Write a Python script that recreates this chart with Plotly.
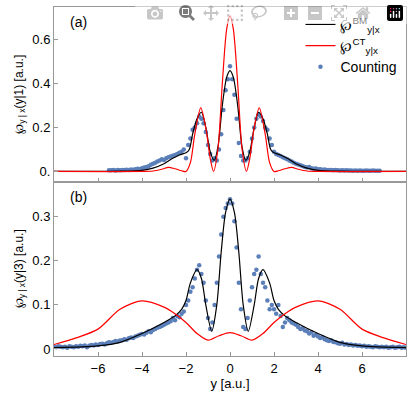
import numpy as np
import plotly.graph_objects as go
from plotly.subplots import make_subplots

# Panel (a) curves
red_a_x = [-8,-4,-3.5,-3.1,-2.8,-2.5,-2.2,-2.0,-1.8,-1.6,-1.33,-1.1,-0.9,-0.75,-0.55,-0.35,-0.15,0,
           0.15,0.35,0.55,0.75,0.9,1.1,1.33,1.6,1.8,2.0,2.2,2.5,2.8,3.1,3.5,4,8]
red_a_y = [0,0,0.002,0.01,0.018,0.012,0.003,0,0.04,0.17,0.29,0.2,0.06,0,0.1,0.4,0.65,0.71,
           0.65,0.4,0.1,0,0.06,0.2,0.29,0.17,0.04,0,0.003,0.012,0.018,0.01,0.002,0,0]
blk_a_x = [-8,-5,-4,-3.5,-3,-2.6,-2.3,-2.0,-1.85,-1.7,-1.5,-1.3,-1.1,-0.9,-0.72,-0.55,-0.35,-0.15,0,
           0.15,0.35,0.55,0.72,0.9,1.1,1.3,1.5,1.7,1.85,2.0,2.3,2.6,3,3.5,4,5,8]
blk_a_y = [0,0.001,0.005,0.015,0.035,0.06,0.075,0.085,0.1,0.17,0.24,0.27,0.2,0.09,0.05,0.11,0.3,0.43,0.46,
           0.43,0.3,0.11,0.05,0.09,0.2,0.27,0.24,0.17,0.1,0.085,0.075,0.06,0.035,0.015,0.005,0.001,0]
cnt_a_x0, cnt_a_step = -5.5, 0.1
cnt_a_y = [0.005,0.005,0.006,0.004,0.006,0.005,0.007,0.006,0.008,0.007,
           0.009,0.008,0.010,0.012,0.011,0.015,0.018,0.020,0.024,0.030,
           0.035,0.040,0.045,0.050,0.055,0.052,0.060,0.065,0.068,0.072,
           0.075,0.08,0.085,0.09,0.10,0.06,0.12,0.15,0.19,0.20,
           0.22,0.25,0.24,0.22,0.18,0.12,0.08,0.05,0.06,0.05,
           0.10,0.17,0.28,0.37,0.42,0.48,0.42,0.35,0.24,0.13,
           0.07,0.05,0.05,0.06,0.09,0.15,0.20,0.24,0.26,0.25,
           0.23,0.20,0.19,0.15,0.12,0.09,0.08,0.075,0.07,0.065,
           0.06,0.055,0.05,0.045,0.04,0.035,0.032,0.028,0.025,0.02,
           0.018,0.02,0.015,0.012,0.013,0.01,0.01,0.008,0.009,0.007,
           0.006,0.007,0.005,0.006,0.005,0.004,0.005,0.004,0.005,0.004,
           0.004,0.003,0.004,0.003,0.004,0.003,0.003,0.004,0.003,0.003,0.004,0.003,0.003,0.003]

# Panel (b) curves
red_b_x = [-8,-7,-6,-5,-4,-3,-2.5,-2,-1.5,-1,-0.5,0,0.5,1,1.5,2,2.5,3,4,5,6,7,8]
red_b_y = [0.01,0.025,0.045,0.09,0.109,0.095,0.08,0.06,0.035,0.02,0.03,0.037,
           0.03,0.02,0.035,0.06,0.08,0.095,0.109,0.09,0.045,0.025,0.01]
blk_b_x = [-8,-6,-5,-4,-3,-2.5,-2.2,-2.0,-1.8,-1.5,-1.3,-1.1,-0.83,-0.6,-0.4,-0.2,0,
           0.2,0.4,0.6,0.83,1.1,1.3,1.5,1.8,2.0,2.2,2.5,3,4,5,6,8]
blk_b_y = [0.003,0.007,0.015,0.035,0.06,0.075,0.09,0.11,0.15,0.18,0.16,0.1,0.04,0.1,0.22,0.31,0.34,
           0.31,0.22,0.1,0.04,0.1,0.16,0.18,0.15,0.11,0.09,0.075,0.06,0.035,0.015,0.007,0.003]
cnt_b_x0, cnt_b_step = -8.0, 0.1
cnt_b_y = [.005,.004,.006,.005,.004,.005,.003,.006,.005,.004,
           .006,.005,.007,.006,.008,.004,.007,.009,.008,.010,
           .009,.011,.012,.010,.013,.015,.014,.016,.018,.017,
           .019,.020,.022,.021,.024,.026,.025,.028,.030,.032,
           .034,.033,.037,.040,.038,.043,.045,.048,.050,.052,
           .055,.058,.060,.063,.070,.065,.075,.072,.08,.085,
           .10,.11,.13,.14,.16,.18,.19,.17,.15,.11,
           .07,.045,.06,.10,.15,.21,.26,.30,.32,.33,
           .34,.33,.29,.23,.15,.09,.05,.045,.07,.11,
           .14,.17,.18,.21,.17,.15,.14,.11,.09,.10,
           .09,.08,.10,.075,.05,.06,.07,.065,.06,.058,
           .055,.05,.045,.047,.042,.04,.035,.038,.03,.032,
           .028,.025,.027,.022,.02,.018,.02,.016,.015,.013,
           .012,.014,.010,.011,.009,.010,.008,.009,.007,.008,
           .006,.007,.005,.006,.005,.004,.006,.005,.004,.005,
           .004,.005,.003,.004,.005,.003,.004,.005,.003,.004,.003]

x_ticks = [-6,-4,-2,0,2,4,6]
x_text = ["−6","−4","−2","0","2","4","6"]
ya_ticks = [0,0.2,0.4,0.6]; ya_text = ["0.","0.2","0.4","0.6"]
yb_ticks = [0,0.1,0.2,0.3]; yb_text = ["0","0.1","0.2","0.3"]

cnt_a_x = [cnt_a_x0 + i*cnt_a_step for i in range(len(cnt_a_y))]
cnt_b_x = [cnt_b_x0 + i*cnt_b_step for i in range(len(cnt_b_y))]

fig = make_subplots(rows=2, cols=1, shared_xaxes=True, vertical_spacing=0)
BLUE = "#5b7fb9"
fig.add_trace(go.Scatter(x=cnt_a_x, y=cnt_a_y, mode="markers", marker=dict(color=BLUE, size=4.5),
                         name="Counting", legendrank=3), row=1, col=1)
fig.add_trace(go.Scatter(x=blk_a_x, y=blk_a_y, mode="lines", line=dict(color="black", width=1.2, shape="spline", smoothing=0.8),
                         name="℘<sup>BM</sup><sub>y|x</sub>", legendrank=1), row=1, col=1)
fig.add_trace(go.Scatter(x=red_a_x, y=red_a_y, mode="lines", line=dict(color="red", width=1.2, shape="spline", smoothing=0.8),
                         name="℘<sup>CT</sup><sub>y|x</sub>", legendrank=2), row=1, col=1)
fig.add_trace(go.Scatter(x=cnt_b_x, y=cnt_b_y, mode="markers", marker=dict(color=BLUE, size=4.5),
                         showlegend=False), row=2, col=1)
fig.add_trace(go.Scatter(x=blk_b_x, y=blk_b_y, mode="lines", line=dict(color="black", width=1.2, shape="spline", smoothing=0.8),
                         showlegend=False), row=2, col=1)
fig.add_trace(go.Scatter(x=red_b_x, y=red_b_y, mode="lines", line=dict(color="red", width=1.2, shape="spline", smoothing=0.8),
                         showlegend=False), row=2, col=1)

ax = dict(showline=True, linecolor="#999", mirror=True, ticks="inside", ticklen=4, tickcolor="#999",
          showgrid=False, zeroline=False, tickfont=dict(size=13, color="black"))
fig.update_xaxes(**ax, range=[-8, 8], tickvals=x_ticks, ticktext=x_text)
fig.update_xaxes(title_text="y [a.u.]", title_font=dict(size=13), title_standoff=4, row=2, col=1)
fig.update_yaxes(**ax)
fig.update_yaxes(range=[-0.046, 0.75], tickvals=ya_ticks, ticktext=ya_text,
                 title_text="℘<sub>y | x</sub>(y|1) [a.u.]", title_font=dict(size=12), title_standoff=6, row=1, col=1)
fig.update_yaxes(range=[-0.016, 0.38], tickvals=yb_ticks, ticktext=yb_text,
                 title_text="℘<sub>y | x</sub>(y|3) [a.u.]", title_font=dict(size=12), title_standoff=6, row=2, col=1)
fig.update_layout(width=409, height=404, margin=dict(l=54, r=3, t=7, b=48),
                  paper_bgcolor="white", plot_bgcolor="white",
                  font=dict(family="Liberation Sans, Arial", color="black"),
                  legend=dict(x=0.99, y=0.995, xanchor="right", yanchor="top", bgcolor="rgba(0,0,0,0)",
                              font=dict(size=14), tracegroupgap=4),
                  annotations=[dict(text="(a)", x=0.04, y=0.985, xref="paper", yref="paper", showarrow=False,
                                    xanchor="left", yanchor="top", font=dict(size=14)),
                               dict(text="(b)", x=0.04, y=0.485, xref="paper", yref="paper", showarrow=False,
                                    xanchor="left", yanchor="top", font=dict(size=14))])
fig.write_html("out.html", post_script="document.body.style.margin='0';document.body.style.padding='0';")
